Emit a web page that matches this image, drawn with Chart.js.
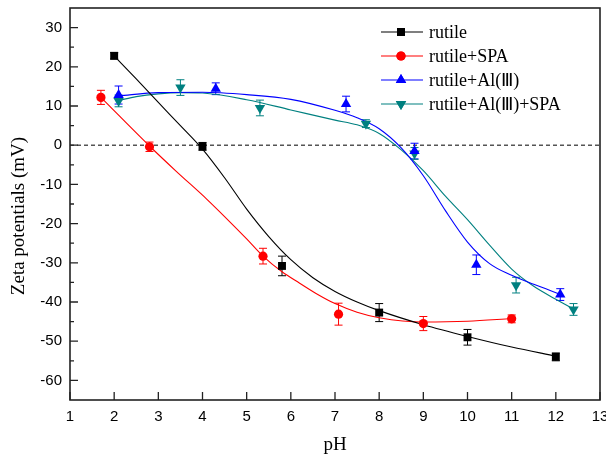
<!DOCTYPE html>
<html>
<head>
<meta charset="utf-8">
<script src="https://cdn.jsdelivr.net/npm/chart.js@4.4.1/dist/chart.umd.min.js"></script>
<style>
  html, body { margin: 0; padding: 0; background: #fff; }
</style>
</head>
<body>
<canvas id="canvas" width="606" height="456"></canvas>
<script>
// measured points (pH, zeta potential in mV, error)
var phRutile = [2, 4, 5.8, 8, 10, 12];
var zetaRutile = [22.8, -0.3, -30.8, -42.7, -49.0, -54.0];
var errRutile = [0.8, 1.0, 2.5, 2.3, 2.0, 1.0];

var phSpa = [1.7, 2.8, 5.37, 7.08, 9, 11];
var zetaSpa = [12.2, -0.4, -28.3, -43.1, -45.5, -44.3];
var errSpa = [1.8, 1.2, 2.0, 2.8, 1.8, 1.0];

var phAl = [2.1, 4.3, 7.25, 8.8, 10.2, 12.1];
var zetaAl = [12.8, 14.4, 10.5, -1.5, -30.5, -38.1];
var errAl = [2.3, 1.5, 2.0, 2.0, 2.5, 1.5];

var phAlSpa = [2.1, 3.5, 5.3, 7.7, 8.8, 11.1, 12.4];
var zetaAlSpa = [11.3, 14.7, 9.5, 5.5, -2.1, -35.7, -41.9];
var errAlSpa = [1.5, 2.0, 2.0, 1.0, 1.5, 2.0, 1.5];

// fitted curves
var fitRutileX = [2, 2.5, 3, 3.5, 4, 4.5, 5, 5.5, 6, 6.5, 7, 7.5, 8, 9, 10, 11, 12];
var fitRutileY = [22.8, 16.9, 10.9, 5.0, -1.0, -8.3, -16.3, -23.3, -29.2, -33.8, -37.3, -40.0, -42.2, -45.8, -48.8, -51.5, -53.8];

var fitSpaX = [1.7, 2.8, 3.4, 4.1, 4.5, 5, 5.37, 5.8, 6.2, 6.6, 7, 7.5, 8, 9, 10, 11];
var fitSpaY = [12.2, -0.2, -6.6, -13.8, -18.2, -23.9, -28.3, -32.3, -35.2, -38.0, -40.4, -42.6, -44.0, -45.1, -44.9, -44.2];

var fitAlX = [2.1, 3, 4, 5, 6, 7, 7.5, 8, 8.5, 9, 9.5, 10, 10.5, 11, 11.5, 12.1];
var fitAlY = [12.6, 13.4, 13.5, 12.9, 11.7, 8.9, 7.0, 4.2, -0.7, -7.8, -16.7, -24.7, -30.2, -33.2, -35.5, -38.0];

var fitAlSpaX = [2.1, 2.5, 3, 3.5, 4, 5, 6, 7, 7.5, 8, 8.5, 9, 9.5, 10, 10.5, 11, 11.5, 12, 12.4];
var fitAlSpaY = [11.4, 12.4, 13.1, 13.4, 13.3, 11.6, 9.0, 6.4, 5.2, 3.0, -1.2, -6.5, -13.0, -19.0, -25.5, -31.6, -36.0, -39.3, -41.8];

var seriesNames = ['rutile', 'rutile+SPA', 'rutile+Al(Ⅲ)', 'rutile+Al(Ⅲ)+SPA'];
var seriesColors = ['#000000', '#ff0000', '#0000ff', '#008080'];
var xTicks = [1, 2, 3, 4, 5, 6, 7, 8, 9, 10, 11, 12, 13];
var yTicks = [-60, -50, -40, -30, -20, -10, 0, 10, 20, 30];
var xTitle = 'pH';
var yTitle = 'Zeta potentials (mV)';

var markerStyles = [
  { pointStyle: 'rect', radius: 5.6, rotation: 0 },
  { pointStyle: 'circle', radius: 4.6, rotation: 0 },
  { pointStyle: 'triangle', radius: 6, rotation: 0 },
  { pointStyle: 'triangle', radius: 6, rotation: 180 }
];

function pts(xs, ys) {
  return xs.map(function (x, i) { return { x: x, y: ys[i] }; });
}

var markerData = [pts(phRutile, zetaRutile), pts(phSpa, zetaSpa), pts(phAl, zetaAl), pts(phAlSpa, zetaAlSpa)];
var errData = [errRutile, errSpa, errAl, errAlSpa];
var fitData = [pts(fitRutileX, fitRutileY), pts(fitSpaX, fitSpaY), pts(fitAlX, fitAlY), pts(fitAlSpaX, fitAlSpaY)];

var datasets = [];
for (var i = 0; i < 4; i++) {
  datasets.push({
    label: seriesNames[i],
    data: markerData[i],
    showLine: false,
    order: 0,
    pointStyle: markerStyles[i].pointStyle,
    rotation: markerStyles[i].rotation,
    pointRadius: markerStyles[i].radius,
    pointHoverRadius: markerStyles[i].radius,
    backgroundColor: seriesColors[i],
    borderColor: seriesColors[i],
    pointBorderWidth: 0,
    errors: errData[i]
  });
}
for (var j = 0; j < 4; j++) {
  datasets.push({
    label: seriesNames[j] + ' fit',
    data: fitData[j],
    showLine: true,
    order: 1,
    pointRadius: 0,
    borderColor: seriesColors[j],
    borderWidth: 1.1,
    cubicInterpolationMode: 'monotone',
    fill: false
  });
}

var tickFont = { family: 'Liberation Sans', size: 15 };

var framePlugin = {
  id: 'frame',
  beforeDatasetsDraw: function (chart) {
    var ctx = chart.ctx, a = chart.chartArea;
    var xs = chart.scales.x, ys = chart.scales.y;
    ctx.save();
    // dashed zero line
    ctx.strokeStyle = '#555';
    ctx.lineWidth = 1.4;
    ctx.setLineDash([4, 3]);
    var y0 = ys.getPixelForValue(0);
    ctx.beginPath();
    ctx.moveTo(a.left, y0);
    ctx.lineTo(a.right, y0);
    ctx.stroke();
    ctx.setLineDash([]);
    // error bars
    chart.data.datasets.forEach(function (ds) {
      if (!ds.errors) return;
      ctx.strokeStyle = ds.borderColor;
      ctx.lineWidth = 1;
      ds.data.forEach(function (p, k) {
        var px = xs.getPixelForValue(p.x);
        var top = ys.getPixelForValue(p.y + ds.errors[k]);
        var bot = ys.getPixelForValue(p.y - ds.errors[k]);
        ctx.beginPath();
        ctx.moveTo(px, top); ctx.lineTo(px, bot);
        ctx.moveTo(px - 4, top); ctx.lineTo(px + 4, top);
        ctx.moveTo(px - 4, bot); ctx.lineTo(px + 4, bot);
        ctx.stroke();
      });
    });
    ctx.restore();
  },
  afterDraw: function (chart) {
    var ctx = chart.ctx, a = chart.chartArea;
    var xs = chart.scales.x, ys = chart.scales.y;
    ctx.save();
    ctx.strokeStyle = '#222';
    ctx.lineWidth = 1.6;
    ctx.strokeRect(a.left, a.top, a.right - a.left, a.bottom - a.top);
    ctx.lineWidth = 1.3;
    ctx.beginPath();
    xTicks.forEach(function (v) {
      var px = xs.getPixelForValue(v);
      ctx.moveTo(px, a.bottom); ctx.lineTo(px, a.bottom - 8);
    });
    yTicks.forEach(function (v) {
      var py = ys.getPixelForValue(v);
      ctx.moveTo(a.left, py); ctx.lineTo(a.left + 8, py);
      var pm = ys.getPixelForValue(v + 5);
      if (pm > a.top + 2) { ctx.moveTo(a.left, pm); ctx.lineTo(a.left + 4, pm); }
    });
    ctx.stroke();

    // axis titles
    ctx.fillStyle = '#000';
    ctx.textAlign = 'center';
    ctx.textBaseline = 'alphabetic';
    ctx.font = '19px "Liberation Serif"';
    ctx.fillText(xTitle, (a.left + a.right) / 2, 450);
    ctx.save();
    ctx.translate(24, (a.top + a.bottom) / 2 + 12);
    ctx.rotate(-Math.PI / 2);
    ctx.fillText(yTitle, 0, 0);
    ctx.restore();

    // legend
    var rowY = 32;
    for (var k = 0; k < 4; k++) {
      ctx.strokeStyle = seriesColors[k];
      ctx.lineWidth = 1.1;
      ctx.beginPath();
      ctx.moveTo(381, rowY); ctx.lineTo(423, rowY);
      ctx.stroke();
      ctx.fillStyle = seriesColors[k];
      Chart.helpers.drawPoint(ctx, {
        pointStyle: markerStyles[k].pointStyle,
        rotation: markerStyles[k].rotation,
        radius: markerStyles[k].radius,
        borderWidth: 0
      }, 401, rowY);
      ctx.fill();
      ctx.fillStyle = '#000';
      ctx.font = '18px "Liberation Serif", "Noto Sans"';
      ctx.textBaseline = 'middle';
      ctx.textAlign = 'left';
      ctx.fillText(seriesNames[k], 429, rowY + 1);
      rowY += 24;
    }
    ctx.restore();
  }
};

new Chart(document.getElementById('canvas'), {
  type: 'scatter',
  data: { datasets: datasets },
  options: {
    responsive: false,
    animation: false,
    events: [],
    layout: { padding: { top: 8, right: 6, left: 0, bottom: 0 } },
    plugins: { legend: { display: false }, tooltip: { enabled: false } },
    scales: {
      x: {
        type: 'linear', min: 1, max: 13,
        afterBuildTicks: function (s) { s.ticks = xTicks.map(function (v) { return { value: v }; }); },
        ticks: { font: tickFont, color: '#000', padding: 8, maxRotation: 0 },
        grid: { display: false, drawTicks: false },
        border: { display: false },
        afterFit: function (s) { s.height = 56; s.paddingLeft = 0; s.paddingRight = 0; }
      },
      y: {
        type: 'linear', min: -65, max: 35,
        afterBuildTicks: function (s) { s.ticks = yTicks.map(function (v) { return { value: v }; }); },
        ticks: { font: tickFont, color: '#000', padding: 8 },
        grid: { display: false, drawTicks: false },
        border: { display: false },
        afterFit: function (s) { s.width = 70; s.paddingTop = 0; s.paddingBottom = 0; }
      }
    }
  },
  plugins: [framePlugin]
});
</script>
</body>
</html>
